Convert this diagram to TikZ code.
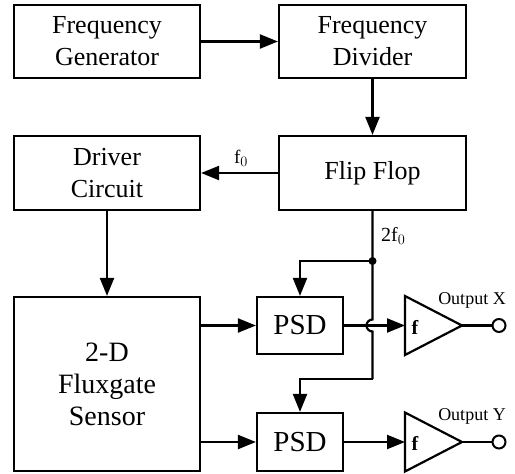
\documentclass[tikz,border=0pt]{standalone}
\usepackage{fontspec}
\setmainfont{Liberation Serif}
\usetikzlibrary{arrows.meta}
\begin{document}
\begin{tikzpicture}[x=1pt,y=-1pt,
  blk/.style={draw,line width=2.2pt,inner sep=0pt,align=center,font=\fontsize{26}{32}\selectfont},
  conn/.style={line width=2.2pt},
  arr/.style={conn,-{Triangle[length=18pt,width=14pt]}},
  lbl/.style={font=\fontsize{18}{20}\selectfont,inner sep=0pt},
  term/.style={draw,circle,line width=2pt,minimum size=13pt,inner sep=0pt}]
\useasboundingbox (0,0) rectangle (515,474);
\node[blk,minimum width=186pt,minimum height=73pt] (gen) at (107,41.5) {Frequency\\Generator};
\node[blk,minimum width=187pt,minimum height=73pt] (div) at (372.5,41.5) {Frequency\\Divider};
\node[blk,minimum width=187pt,minimum height=74pt] (ff) at (372.5,173) {Flip Flop};
\node[blk,minimum width=186pt,minimum height=74pt] (drv) at (107,173) {Driver\\Circuit};
\node[blk,minimum width=186pt,minimum height=174pt,font=\fontsize{28}{32}\selectfont] (sen) at (107,384) {2-D\\Fluxgate\\Sensor};
\node[blk,minimum width=86pt,minimum height=57pt,font=\fontsize{29}{32}\selectfont] (psd1) at (300,325.5) {PSD};
\node[blk,minimum width=86pt,minimum height=58pt,font=\fontsize{29}{32}\selectfont] (psd2) at (300,442) {PSD};
% filters
\coordinate (f1in) at (405,325.5);
\coordinate (f1out) at (462,325.5);
\coordinate (f2in) at (405,442);
\coordinate (f2out) at (462,442);
\draw[conn,line join=miter] (405,296) -- (f1out) -- (405,355) -- cycle;
\draw[conn,line join=miter] (405,412.5) -- (f2out) -- (405,471.5) -- cycle;
\node[font=\fontsize{20}{20}\selectfont\bfseries,inner sep=0pt] (fl1) at (415,327) {f};
\node[font=\fontsize{20}{20}\selectfont\bfseries,inner sep=0pt] (fl2) at (415,443.5) {f};
\node[term] (o1) at (499,325.5) {};
\node[term] (o2) at (499,442) {};
\node[lbl] (lx) at (472,300) {Output X};
\node[lbl] (ly) at (472,416) {Output Y};
% connectors
\draw[arr] (gen.east |- 0,41.5) -- (div.west |- 0,41.5);
\draw[arr] (div.south) -- (ff.north);
\draw[arr] (ff.west) -- (drv.east);
\node[font=\fontsize{19}{19}\selectfont,inner sep=0pt] (f0) at (241,158) {f$_0$};
\draw[arr] (drv.south) -- (sen.north);
\draw[arr] (sen.east |- psd1.west) -- (psd1.west);
\draw[arr] (sen.east |- psd2.west) -- (psd2.west);
\draw[arr] (psd1.east) -- (f1in);
\draw[arr] (psd2.east) -- (f2in);
\draw[conn] (f1out) -- (o1.west);
\draw[conn] (f2out) -- (o2.west);
\coordinate (dot) at (372.5,261);
\coordinate (hopa) at (372.5,319.5);
\coordinate (bend) at (372.5,379);
\draw[conn] (ff.south) -- (hopa) arc[start angle=270,end angle=90,radius=6] -- (bend);
\draw[arr] (bend) -| (psd2.north);
\draw[arr] (dot) -| (psd1.north);
\fill (dot) circle (4);
\node[font=\fontsize{20}{20}\selectfont,inner sep=0pt,anchor=west] (l2f) at (381,236) {2f$_0$};
\end{tikzpicture}
\end{document}
